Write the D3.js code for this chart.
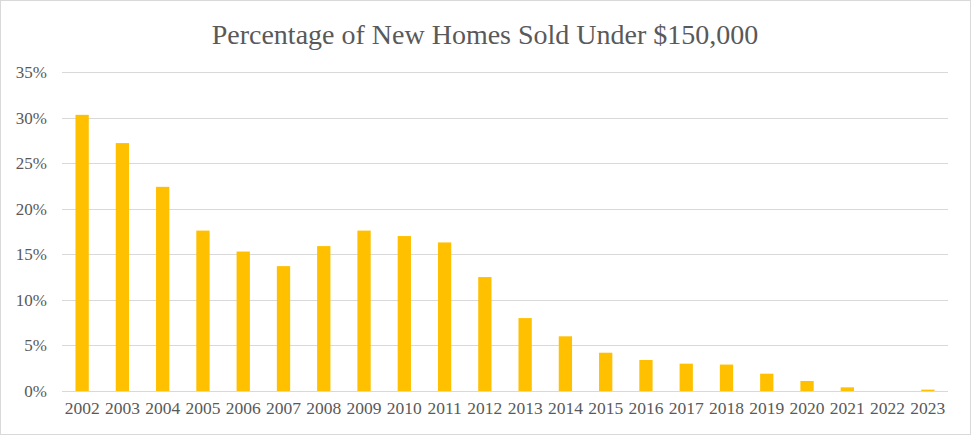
<!DOCTYPE html>
<html><head><meta charset="utf-8">
<script src="https://cdn.jsdelivr.net/npm/d3@7"></script>
<style>html,body{margin:0;padding:0;background:#fff;}</style>
</head><body>
<svg id="chart" width="971" height="435"></svg>
<script>
const years = ["2002","2003","2004","2005","2006","2007","2008","2009","2010","2011","2012","2013","2014","2015","2016","2017","2018","2019","2020","2021","2022","2023"];
const shares = [30.3,27.2,22.4,17.6,15.3,13.7,15.9,17.6,17.0,16.3,12.5,8.0,6.0,4.2,3.4,3.0,2.9,1.9,1.1,0.4,0.0,0.15];
const yTicks = [0,5,10,15,20,25,30,35];
const title = "Percentage of New Homes Sold Under $150,000";

const svg = d3.select("#chart");
const W = 971, H = 435;
const m = {left:62, right:23, top:72, bottom:44};
const font = "'Liberation Serif','Times New Roman',serif";

svg.append("rect").attr("x",0.5).attr("y",0.5).attr("width",W-1).attr("height",H-1)
  .attr("fill","#fff").attr("stroke","#d9d9d9");

const x = d3.scaleBand().domain(years).range([m.left, W-m.right]).paddingInner(0.67).paddingOuter(0.335);
const y = d3.scaleLinear().domain([0,35]).range([H-m.bottom, m.top]);

const grid = svg.append("g");
grid.selectAll("line").data(yTicks).join("line")
  .attr("x1",m.left).attr("x2",W-m.right)
  .attr("y1",d=>Math.round(y(d))+0.5).attr("y2",d=>Math.round(y(d))+0.5)
  .attr("stroke","#d9d9d9").attr("stroke-width",1);

svg.append("g").selectAll("rect").data(years).join("rect")
  .attr("x",(d)=>x(d)).attr("width",x.bandwidth())
  .attr("y",(d,i)=>y(shares[i])).attr("height",(d,i)=>y(0)-y(shares[i]))
  .attr("fill","#ffc000");

const yAxis = d3.axisLeft(y).tickValues(yTicks).tickFormat(d=>d+"%").tickSize(0).tickPadding(15);
const ya = svg.append("g").attr("transform",`translate(${m.left},0)`).call(yAxis);
ya.select(".domain").remove();
ya.selectAll("text").attr("font-family",font).attr("font-size",17).attr("fill","#595959");

const xAxis = d3.axisBottom(x).tickSize(0).tickPadding(11);
const xa = svg.append("g").attr("transform",`translate(0,${H-m.bottom})`).call(xAxis);
xa.select(".domain").remove();
xa.selectAll("text").attr("font-family",font).attr("font-size",17.5).attr("fill","#595959");

svg.append("text").attr("x",485).attr("y",44).attr("text-anchor","middle")
  .attr("font-family",font).attr("font-size",28).attr("fill","#595959").text(title);
</script>
</body></html>
